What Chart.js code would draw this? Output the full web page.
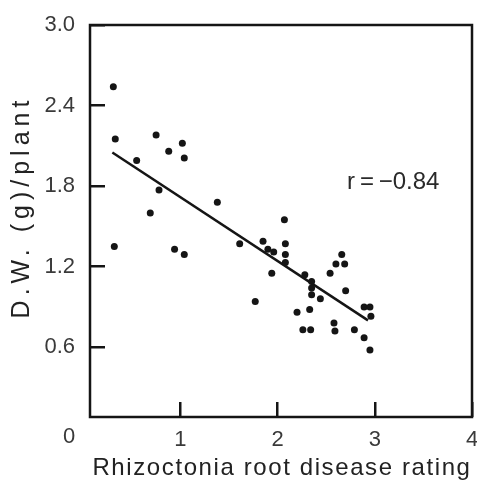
<!DOCTYPE html>
<html>
<head>
<meta charset="utf-8">
<script src="https://cdn.jsdelivr.net/npm/chart.js@4/dist/chart.umd.min.js"></script>
<style>
  html, body { margin: 0; padding: 0; background: #fff; }
  #wrap { width: 477px; height: 486px; position: relative; }
</style>
</head>
<body>
<div id="wrap"><canvas id="chart"></canvas></div>
<script>
'use strict';

// disease rating vs dry weight
const ratingValues = [
  0.31, 0.33, 0.32, 0.75, 1.02, 0.88, 1.04, 0.55, 0.78, 0.69,
  1.38, 2.07, 0.94, 1.04, 1.61, 1.85, 1.90, 1.96, 2.08, 2.08,
  2.08, 1.94, 1.77, 2.28, 2.35, 2.35, 2.35, 2.44, 2.20, 2.33,
  2.26, 2.34, 2.66, 2.60, 2.69, 2.54, 2.70, 2.58, 2.59, 2.79,
  2.89, 2.95, 2.96, 2.89, 2.95,
];
const weightValues = [
  2.54, 2.15, 1.35, 2.18, 2.12, 2.06, 2.01, 1.99, 1.77, 1.60,
  1.68, 1.55, 1.33, 1.29, 1.37, 1.39, 1.33, 1.31, 1.37, 1.29,
  1.23, 1.15, 0.94, 1.14, 1.09, 1.04, 0.99, 0.96, 0.86, 0.88,
  0.73, 0.73, 1.29, 1.22, 1.22, 1.15, 1.02, 0.78, 0.72, 0.73,
  0.90, 0.90, 0.83, 0.67, 0.58,
];

// regression line end points
const fitX = [0.30, 2.93];
const fitY = [2.05, 0.80];

const xTickValues = [1, 2, 3, 4];
const yTickValues = [0.6, 1.2, 1.8, 2.4, 3.0];
const cornerLabel = '0';
const xTitle = 'Rhizoctonia root disease rating';
const yTitle = 'D.W. (g)/plant';
const rLabel = 'r\u2009=\u2009\u22120.84';
const rLabelAt = { x: 3.19, y: 1.83 };

const FONT = '"Liberation Sans", Arial, Helvetica, sans-serif';
const INK = '#151515';
const TEXT = '#3a3a3a';
const TICK_IN = -15; // negative tick length puts the marks inside the frame

const points = ratingValues.map((x, i) => ({ x, y: weightValues[i] }));
const fitLine = fitX.map((x, i) => ({ x, y: fitY[i] }));

const framePlugin = {
  id: 'frame',
  afterDraw(chart) {
    const { ctx, chartArea: area } = chart;
    const xScale = chart.scales.x;
    const yScale = chart.scales.y;

    ctx.save();
    ctx.strokeStyle = INK;
    ctx.lineWidth = 2.5;
    ctx.strokeRect(area.left, area.top, area.right - area.left, area.bottom - area.top);

    ctx.textAlign = 'center';
    ctx.textBaseline = 'middle';
    ctx.fillStyle = TEXT;
    ctx.font = `22px ${FONT}`;
    ctx.fillText(cornerLabel, area.left - 21, area.bottom + 20);

    ctx.fillStyle = '#2a2a2a';
    ctx.font = `24px ${FONT}`;
    ctx.fillText(rLabel, xScale.getPixelForValue(rLabelAt.x), yScale.getPixelForValue(rLabelAt.y));

    // axis titles, drawn here for the wide letter spacing of the original
    ctx.fillStyle = '#222';
    ctx.font = `24px ${FONT}`;
    ctx.letterSpacing = '1.6px';
    ctx.fillText(xTitle, (area.left + area.right) / 2 + 1, chart.height - 18);

    ctx.translate(22, (area.top + area.bottom) / 2 - 14);
    ctx.rotate(-Math.PI / 2);
    ctx.font = `25px ${FONT}`;
    ctx.letterSpacing = '5px';
    ctx.fillText(yTitle, 0, 0);
    ctx.restore();
  },
};

const tickGrid = {
  display: true,
  drawOnChartArea: false,
  drawTicks: true,
  tickLength: TICK_IN,
  color: INK,
  lineWidth: 2.5,
};

new Chart(document.getElementById('chart'), {
  type: 'scatter',
  data: {
    datasets: [
      {
        data: points,
        backgroundColor: INK,
        borderWidth: 0,
        pointRadius: 3.5,
        pointHoverRadius: 3.5,
      },
      {
        type: 'line',
        data: fitLine,
        borderColor: INK,
        borderWidth: 2.5,
        pointRadius: 0,
        fill: false,
        tension: 0,
      },
    ],
  },
  options: {
    responsive: true,
    maintainAspectRatio: false,
    animation: false,
    events: [],
    layout: { padding: { top: 25, right: 5, left: 0, bottom: 0 } },
    plugins: {
      legend: { display: false },
      tooltip: { enabled: false },
    },
    scales: {
      x: {
        type: 'linear',
        min: 0.07,
        max: 4,
        afterBuildTicks: (scale) => { scale.ticks = xTickValues.map((value) => ({ value })); },
        afterFit: (scale) => {
          scale.height = 69;
          scale.paddingLeft = 0;
          scale.paddingRight = 0;
        },
        grid: tickGrid,
        border: { display: false },
        ticks: {
          color: TEXT,
          font: { family: FONT, size: 22 },
          padding: 10 - TICK_IN,
          maxRotation: 0,
          callback: (v) => String(v),
        },
      },
      y: {
        type: 'linear',
        min: 0.08,
        max: 3,
        afterBuildTicks: (scale) => { scale.ticks = yTickValues.map((value) => ({ value })); },
        afterFit: (scale) => {
          scale.width = 90;
          scale.paddingTop = 0;
          scale.paddingBottom = 0;
        },
        grid: tickGrid,
        border: { display: false },
        ticks: {
          color: TEXT,
          font: { family: FONT, size: 22 },
          padding: 15 - TICK_IN,
          callback: (v) => v.toFixed(1),
        },
      },
    },
  },
  plugins: [framePlugin],
});
</script>
</body>
</html>
